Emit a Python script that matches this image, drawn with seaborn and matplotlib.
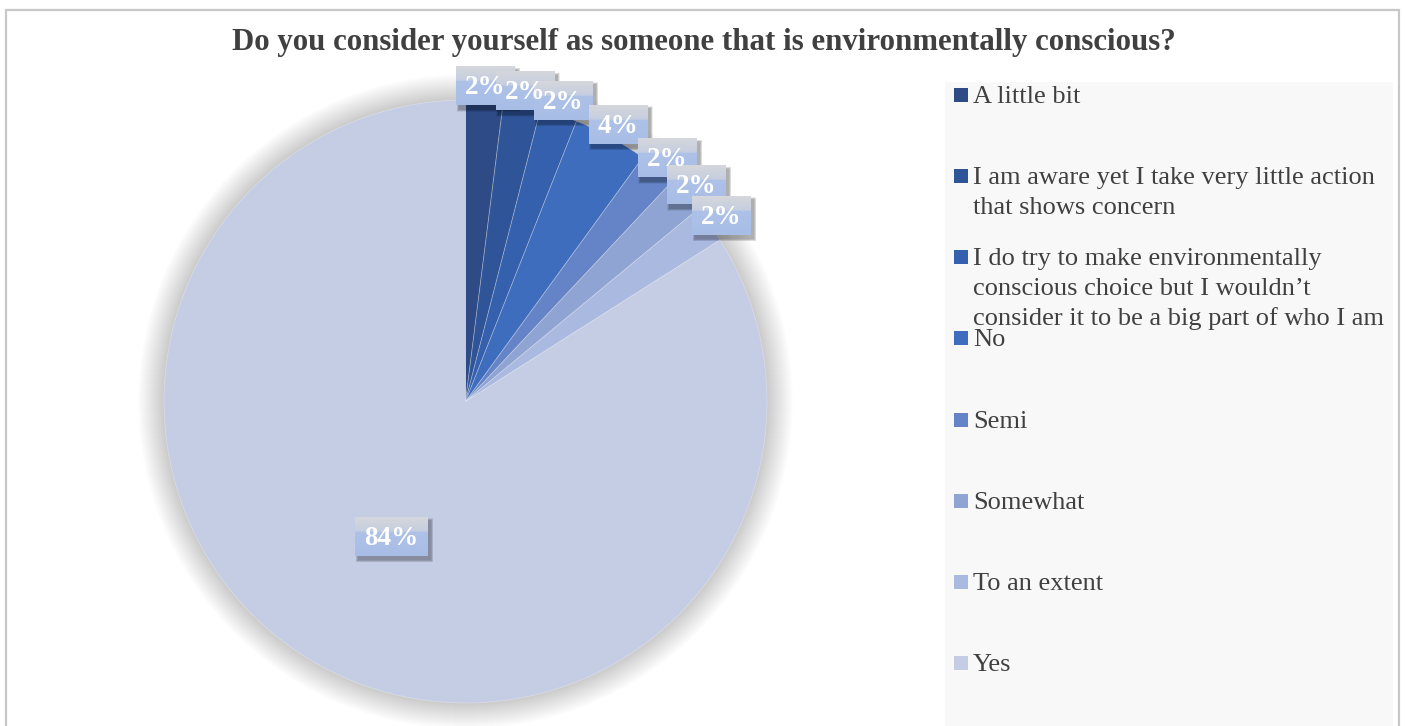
import numpy as np
import pandas as pd
import matplotlib
matplotlib.use("Agg")
import matplotlib.pyplot as plt
import seaborn as sns
from matplotlib.patches import Rectangle, Circle

# Survey answers (legend labels keep their wrapped layout)
responses = [
    "A little bit",
    "I am aware yet I take very little action\nthat shows concern",
    "I do try to make environmentally\nconscious choice but I wouldn\u2019t\nconsider it to be a big part of who I am",
    "No",
    "Semi",
    "Somewhat",
    "To an extent",
    "Yes",
]
percent = [2, 2, 2, 4, 2, 2, 2, 84]
palette = ["#2E4B85", "#2F5598", "#3560AD", "#3E6DBE",
           "#6584C8", "#8FA4D2", "#AAB9DF", "#C5CDE5"]
title = "Do you consider yourself as someone that is environmentally conscious?"

df = pd.DataFrame({"response": responses, "percent": percent, "color": palette})

sns.set_theme(style="white")
plt.rcParams["font.family"] = ["Liberation Serif", "DejaVu Serif"]

W, H = 1405, 726
fig = plt.figure(figsize=(W / 100, H / 100), dpi=100)
fig.patch.set_facecolor("white")


def fx(px):
    return px / W


def fy(py):
    return 1 - py / H


# outer chart frame
fig.add_artist(Rectangle((fx(6.5), fy(760)), fx(1398.5 - 6.5), (760 - 10) / H,
                         transform=fig.transFigure, fill=False,
                         edgecolor="#C8C8C8", linewidth=1.6, zorder=1))

# legend panel background
fig.add_artist(Rectangle((fx(945), fy(726)), fx(1393 - 945), (726 - 82) / H,
                         transform=fig.transFigure, facecolor="#F8F8F8",
                         edgecolor="none", zorder=0.5))

# title
fig.text(fx(703.5), fy(50), title, ha="center", va="baseline", fontsize=22.2,
         fontweight="bold", color="#404040", zorder=5)

# pie axes
cx, cy, r = 465.5, 401.5, 301.5
ax = fig.add_axes([fx(cx - r), fy(cy + r), 2 * r / W, 2 * r / H])

# soft glow behind the pie
n_glow = 26
for k in range(n_glow):
    ax.add_patch(Circle((0, 0), 1 + (n_glow - k) / r, facecolor="black",
                        edgecolor="none", alpha=0.006, zorder=0, clip_on=False))

wedges, _ = ax.pie(df["percent"], colors=df["color"], startangle=90,
                   counterclock=False, radius=1,
                   wedgeprops=dict(edgecolor=(1, 1, 1, 0.3), linewidth=0.6))
for w in wedges:
    w.set_zorder(2)
ax.set_xlim(-1, 1)
ax.set_ylim(-1, 1)
ax.axis("off")

# data labels
fig.canvas.draw()
renderer = fig.canvas.get_renderer()

grad_n = 40
t = np.linspace(0, 1, grad_n)
top_c = np.array(matplotlib.colors.to_rgb("#D5D7DB"))
mid_c = np.array(matplotlib.colors.to_rgb("#C4CDE0"))
blue_top = np.array(matplotlib.colors.to_rgb("#AEC2E8"))
blue_bot = np.array(matplotlib.colors.to_rgb("#A8BDE6"))
grad = np.zeros((grad_n, 1, 3))
for i, v in enumerate(t):
    if v < 0.38:
        s = v / 0.38
        grad[i, 0] = top_c * (1 - s) + mid_c * s
    else:
        s = (v - 0.38) / 0.62
        grad[i, 0] = blue_top * (1 - s) + blue_bot * s

for w, p in zip(wedges, df["percent"]):
    mid = np.deg2rad((w.theta1 + w.theta2) / 2)
    dist = 1.05 if p < 50 else 0.51
    px, py_disp = ax.transData.transform((dist * np.cos(mid), dist * np.sin(mid)))
    xf, yf = px / W, py_disp / H
    txt = fig.text(xf, yf - 8.5 / H, f"{p}%", ha="center", va="baseline",
                   fontsize=19.5, fontweight="bold", color="white", zorder=6)
    tw = txt.get_window_extent(renderer).width
    bw, bh = tw + 18, 39
    x0, y0 = px - bw / 2, py_disp - bh / 2
    # drop shadow
    for s in range(1, 6):
        fig.add_artist(Rectangle(((x0 + 3 - s * 0.5) / W, (y0 - 4 - s * 0.5) / H),
                                 (bw + s) / W, (bh + s) / H,
                                 transform=fig.transFigure, facecolor="black",
                                 edgecolor="none", alpha=0.07, zorder=3))
    box_ax = fig.add_axes([x0 / W, y0 / H, bw / W, bh / H], zorder=4)
    box_ax.imshow(grad, aspect="auto", extent=(0, 1, 0, 1), interpolation="bilinear")
    box_ax.axis("off")

# legend entries
legend_y = np.linspace(95, 663, len(df))
for yy, lab, col in zip(legend_y, df["response"], df["color"]):
    fig.add_artist(Rectangle((fx(954), fy(yy + 7)), 14 / W, 14 / H,
                             transform=fig.transFigure, facecolor=col,
                             edgecolor="none", zorder=2))
    for j, line in enumerate(lab.split("\n")):
        fig.text(fx(973), fy(yy + 8 + 30 * j), line, ha="left", va="baseline",
                 fontsize=19, color="#404040", zorder=5)

fig.savefig("out.png", dpi=100)
